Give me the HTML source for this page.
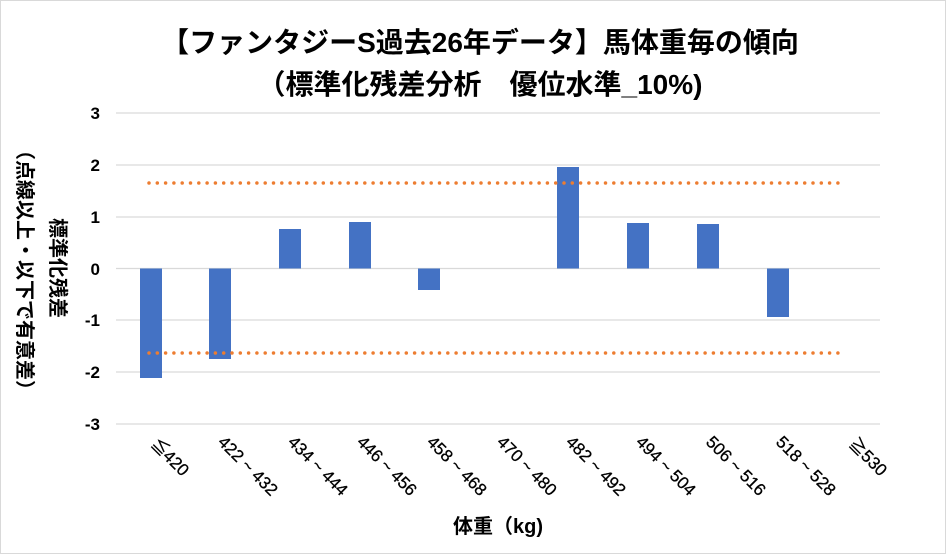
<!DOCTYPE html>
<html><head><meta charset="utf-8"><style>
body{margin:0;background:#fff}
svg{display:block;font-family:"Liberation Sans","Noto Sans CJK JP",sans-serif}
</style></head><body>
<svg width="946" height="554" viewBox="0 0 946 554">
<rect x="0.5" y="0.5" width="945" height="553" fill="#fff" stroke="#d9d9d9"/>
<text x="480" y="52" text-anchor="middle" font-size="28" font-weight="bold" fill="#000">【ファンタジーS過去26年データ】馬体重毎の傾向</text>
<text x="480" y="94" text-anchor="middle" font-size="28" font-weight="bold" fill="#000">（標準化残差分析　優位水準_10%)</text>
<g stroke="#d9d9d9" stroke-width="1.3">
<line x1="116" x2="880" y1="113" y2="113"/><line x1="116" x2="880" y1="165" y2="165"/>
<line x1="116" x2="880" y1="217" y2="217"/><line x1="116" x2="880" y1="268.5" y2="268.5"/>
<line x1="116" x2="880" y1="320" y2="320"/><line x1="116" x2="880" y1="372" y2="372"/>
<line x1="116" x2="880" y1="424" y2="424"/>
</g>
<g font-size="17" font-weight="bold" text-anchor="end" fill="#000">
<text x="100" y="119">3</text><text x="100" y="171">2</text><text x="100" y="223">1</text>
<text x="100" y="275">0</text><text x="100" y="326">-1</text><text x="100" y="378">-2</text><text x="100" y="430">-3</text>
</g>
<g fill="#4472c4">
<rect x="140" y="268.5" width="22" height="109.5"/>
<rect x="209" y="268.5" width="22" height="90.5"/>
<rect x="279" y="229" width="22" height="39.5"/>
<rect x="349" y="222" width="22" height="46.5"/>
<rect x="418" y="268.5" width="22" height="21.5"/>
<rect x="557" y="167" width="22" height="101.5"/>
<rect x="627" y="223" width="22" height="45.5"/>
<rect x="697" y="224" width="22" height="44.5"/>
<rect x="767" y="268.5" width="22" height="48.5"/>
</g>
<g stroke="#ed7d31" stroke-width="3.5" stroke-linecap="round" stroke-dasharray="0 8.3">
<line x1="149" x2="845" y1="183" y2="183"/>
<line x1="149" x2="845" y1="353" y2="353"/>
</g>
<g font-size="17" fill="#000" stroke="#000" stroke-width="0.3">
<text transform="translate(150,445) rotate(45)">≦420</text>
<text transform="translate(217,443) rotate(45)">422 ~ 432</text>
<text transform="translate(287,443) rotate(45)">434 ~ 444</text>
<text transform="translate(356,443) rotate(45)">446 ~ 456</text>
<text transform="translate(426,443) rotate(45)">458 ~ 468</text>
<text transform="translate(496,443) rotate(45)">470 ~ 480</text>
<text transform="translate(565,443) rotate(45)">482 ~ 492</text>
<text transform="translate(635,443) rotate(45)">494 ~ 504</text>
<text transform="translate(705,443) rotate(45)">506 ~ 516</text>
<text transform="translate(775,443) rotate(45)">518 ~ 528</text>
<text transform="translate(848,445) rotate(45)">≧530</text>
</g>
<text x="498" y="533" text-anchor="middle" font-size="20" font-weight="bold">体重（kg)</text>
<text transform="translate(51,268) rotate(90)" text-anchor="middle" font-size="20" font-weight="bold">標準化残差</text>
<text transform="translate(18,270) rotate(90)" text-anchor="middle" font-size="20" font-weight="bold">（点線以上・以下で有意差）</text>
</svg>
</body></html>
